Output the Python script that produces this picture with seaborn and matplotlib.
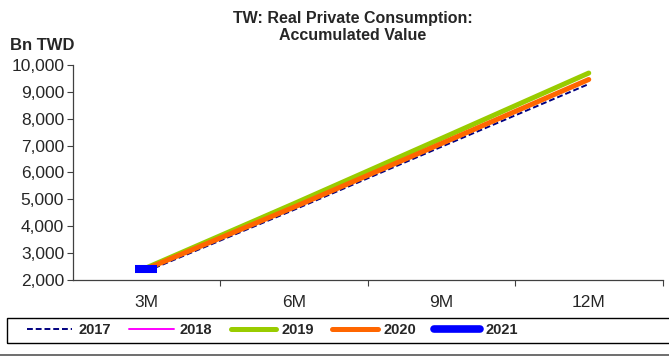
import matplotlib
matplotlib.use("Agg")
import matplotlib.pyplot as plt
import seaborn as sns
import pandas as pd
from matplotlib.lines import Line2D
from matplotlib.patches import Rectangle
from matplotlib.ticker import FuncFormatter, FixedLocator

categories = ["3M", "6M", "9M", "12M"]
v2017 = [2310, 4600, 6950, 9290]
v2018 = [2380, 4720, 7100, 9480]
v2019 = [2440, 4830, 7260, 9700]
v2020 = [2400, 4700, 7070, 9460]
v2021 = [2410]

series = {"2017": v2017, "2018": v2018, "2019": v2019, "2020": v2020, "2021": v2021}
styles = {
    "2017": dict(color="#000080", lw=1.4, ls=(0, (3, 1.5))),
    "2018": dict(color="#FF00FF", lw=1.4, ls="-"),
    "2019": dict(color="#99CC00", lw=3.6, ls="-"),
    "2020": dict(color="#FF6600", lw=3.6, ls="-"),
    "2021": dict(color="#0000FF", lw=5.5, ls="-"),
}

rows = []
for name, vals in series.items():
    for i, v in enumerate(vals):
        rows.append({"year": name, "x": i, "value": v})
df = pd.DataFrame(rows)

sns.set_theme(style="white")
plt.rcParams["font.family"] = ["Liberation Sans", "DejaVu Sans"]

fig = plt.figure(figsize=(6.69, 3.61), dpi=100)
ax = fig.add_axes([72.5 / 669, 1 - 279.7 / 361, (662.5 - 72.5) / 669, (279.7 - 65) / 361])

for name in ["2017", "2018", "2019", "2020"]:
    st = styles[name]
    sub = df[df.year == name]
    sns.lineplot(data=sub, x="x", y="value", ax=ax, color=st["color"],
                 linewidth=st["lw"], linestyle=st["ls"], legend=False)
sub = df[df.year == "2021"]
ax.plot(sub["x"], sub["value"], marker="_", markersize=16.5, mew=5.8,
        color=styles["2021"]["color"], linestyle="none")

ax.set_xlim(-0.5, 3.5)
ax.set_ylim(2000, 10000)
ax.set_yticks(range(2000, 10001, 1000))
ax.yaxis.set_major_formatter(FuncFormatter(lambda v, p: f"{int(v):,}"))
ax.set_xticks(range(len(categories)))
ax.set_xticklabels(categories)
ax.xaxis.set_minor_locator(FixedLocator([0.5, 1.5, 2.5, 3.5]))
ax.tick_params(axis="x", which="major", length=0, labelsize=12.5, pad=11)
ax.tick_params(axis="x", which="minor", length=4, width=0.8, color="#404040", direction="out", bottom=True)
ax.tick_params(axis="y", length=4, width=0.8, color="#404040", direction="out", left=True, labelsize=12.5, pad=2)
ax.set_xlabel("")
ax.set_ylabel("")
for s in ["top", "right"]:
    ax.spines[s].set_visible(False)
for s in ["left", "bottom"]:
    ax.spines[s].set_color("#404040")
    ax.spines[s].set_linewidth(0.9)

fig.text(353 / 669, 1 - 18 / 361, "TW: Real Private Consumption:",
         ha="center", va="center", fontsize=11.5, fontweight="bold")
fig.text(353 / 669, 1 - 35 / 361, "Accumulated Value",
         ha="center", va="center", fontsize=11.5, fontweight="bold")
fig.text(10 / 669, 1 - 46 / 361, "Bn TWD", ha="left", va="center", fontsize=12, fontweight="bold")

handles = [Line2D([], [], color=styles[n]["color"], lw=styles[n]["lw"],
                  ls=styles[n]["ls"], solid_capstyle="round") for n in series]
leg = fig.legend(handles, list(series.keys()), loc="center left",
                 bbox_to_anchor=(27 / 669, 1 - 330.5 / 361), ncol=5, frameon=False,
                 prop={"weight": "bold", "size": 10.5},
                 handlelength=3.1, handletextpad=0.4, columnspacing=1.25,
                 borderpad=0.0, borderaxespad=0)

fig.add_artist(Rectangle((7 / 669, 1 - 343 / 361), 1.0, 25 / 361, fill=False,
                         edgecolor="black", lw=1.0, transform=fig.transFigure))
fig.add_artist(Line2D([0, 1], [1 - 355 / 361, 1 - 355 / 361], color="#555555", lw=1.2,
                      transform=fig.transFigure))

fig.savefig("out.png", dpi=100)
